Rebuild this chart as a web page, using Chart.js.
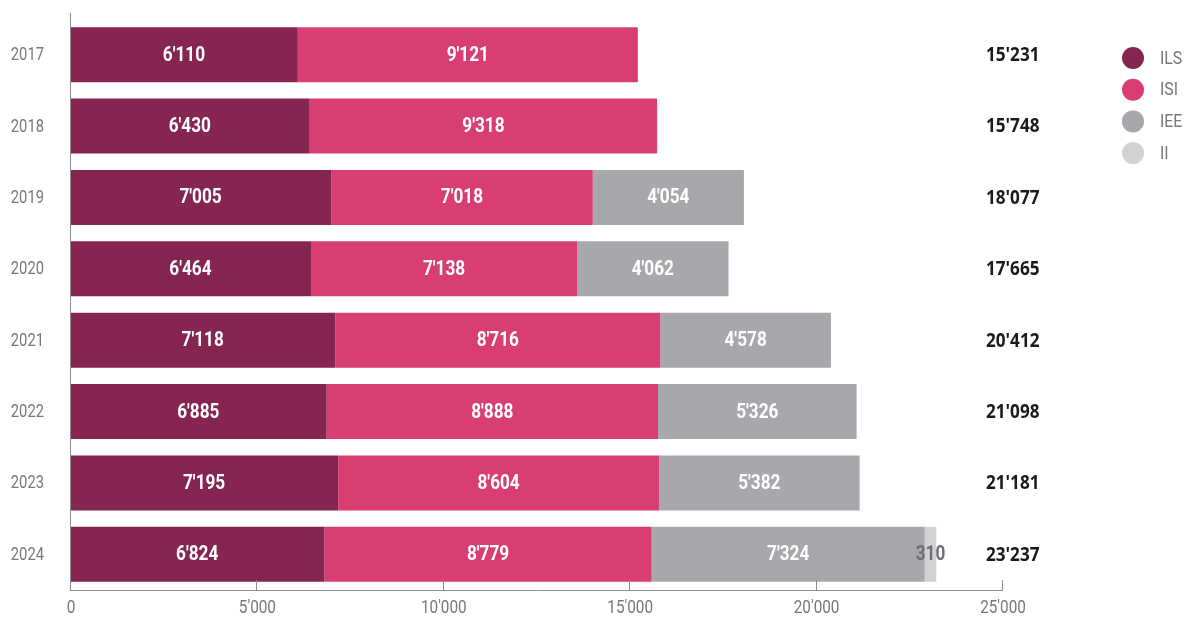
<!DOCTYPE html>
<html><head><meta charset="utf-8">
<script src="https://cdn.jsdelivr.net/npm/chart.js@4"></script>
<style>html,body{margin:0;padding:0;background:#fff}#wrap{width:1186px;height:617px;position:relative}</style>
</head><body>
<div id="wrap"><canvas id="c" width="1186" height="617"></canvas></div>
<script>
const years = ['2017','2018','2019','2020','2021','2022','2023','2024'];
const ils = [6110, 6430, 7005, 6464, 7118, 6885, 7195, 6824];
const isi = [9121, 9318, 7018, 7138, 8716, 8888, 8604, 8779];
const iee = [null, null, 4054, 4062, 4578, 5326, 5382, 7324];
const ii  = [null, null, null, null, null, null, null, 310];
const totals = [15231, 15748, 18077, 17665, 20412, 21098, 21181, 23237];
const seriesNames = ['ILS', 'ISI', 'IEE', 'II'];
const colors = ['#862452', '#d83e72', '#a7a8ab', '#d1d2d4'];
const labelColors = ['#ffffff', '#ffffff', '#ffffff', '#6d6e71'];
const xTicks = [0, 5000, 10000, 15000, 20000, 25000];

const SANS = "Roboto, 'Liberation Sans', sans-serif";
const fmt = v => String(v).replace(/\B(?=(\d{3})+(?!\d))/g, "'");
const AXIS = '#8c8c8c';
const TICKCOL = '#77787b';

function narrowText(ctx, text, x, y, sx) {
  ctx.save();
  ctx.translate(x, y);
  ctx.scale(sx, 1);
  ctx.fillText(text, 0, 0);
  ctx.restore();
}

const overlay = {
  id: 'overlay',
  afterDatasetsDraw(chart) {
    const ctx = chart.ctx;
    ctx.save();
    ctx.textAlign = 'center';
    ctx.textBaseline = 'middle';
    ctx.font = "bold 20px " + SANS;
    chart.data.datasets.forEach((ds, di) => {
      const meta = chart.getDatasetMeta(di);
      meta.data.forEach((el, i) => {
        const v = ds.data[i];
        if (v == null) return;
        ctx.fillStyle = labelColors[di];
        narrowText(ctx, fmt(v), (el.x + el.base) / 2, el.y + 1, 0.86);
      });
    });
    ctx.restore();
  },
  afterDraw(chart) {
    const ctx = chart.ctx;
    const xs = chart.scales.x, ys = chart.scales.y;
    ctx.save();
    // y axis line
    ctx.strokeStyle = AXIS;
    ctx.lineWidth = 1;
    ctx.beginPath();
    ctx.moveTo(xs.left + 0.5, 13);
    ctx.lineTo(xs.left + 0.5, xs.top);
    ctx.stroke();
    // inner tick marks + x tick labels
    ctx.fillStyle = TICKCOL;
    ctx.font = "18px " + SANS;
    ctx.textAlign = 'center';
    ctx.textBaseline = 'middle';
    xTicks.forEach(v => {
      const px = xs.getPixelForValue(v);
      const x = Math.round(px) + 0.5;
      ctx.beginPath();
      ctx.moveTo(x, xs.top - 10);
      ctx.lineTo(x, xs.top);
      ctx.stroke();
      narrowText(ctx, fmt(v), px + 1, xs.top + 18, 0.85);
    });
    // y tick labels
    ctx.textAlign = 'right';
    years.forEach((yv, i) => {
      narrowText(ctx, yv, 44, ys.getPixelForValue(i) + 1, 0.82);
    });
    // totals
    ctx.fillStyle = '#1a1a1a';
    ctx.font = "bold 19px 'Open Sans', 'Liberation Sans', sans-serif";
    ctx.textAlign = 'left';
    totals.forEach((t, i) => {
      narrowText(ctx, fmt(t), xs.right - 16, ys.getPixelForValue(i) + 1, 0.9);
    });
    // legend
    seriesNames.forEach((n, i) => {
      const cy = 58 + i * 31.7;
      ctx.fillStyle = colors[i];
      ctx.beginPath();
      ctx.arc(1133, cy, 11, 0, Math.PI * 2);
      ctx.fill();
      ctx.fillStyle = TICKCOL;
      ctx.font = "18px " + SANS;
      narrowText(ctx, n, 1160, cy + 1, 0.88);
    });
    ctx.restore();
  }
};

new Chart(document.getElementById('c'), {
  type: 'bar',
  data: {
    labels: years,
    datasets: seriesNames.map((n, i) => ({
      label: n,
      data: [ils, isi, iee, ii][i],
      backgroundColor: colors[i],
      borderWidth: 0,
      categoryPercentage: 0.77,
      barPercentage: 1
    }))
  },
  options: {
    indexAxis: 'y',
    responsive: false,
    animation: false,
    layout: { autoPadding: false, padding: { top: 19, right: 184, left: 0, bottom: 0 } },
    plugins: { legend: { display: false }, tooltip: { enabled: false } },
    scales: {
      x: {
        stacked: true, min: 0, max: 25000,
        afterBuildTicks: s => { s.ticks = xTicks.map(v => ({ value: v })); },
        afterFit: s => { s.height = 27; s.paddingLeft = 0; s.paddingRight = 0; },
        grid: { display: false, drawTicks: false },
        border: { display: true, color: AXIS, width: 1 },
        ticks: { display: false }
      },
      y: {
        stacked: true,
        afterFit: s => { s.width = 70; s.paddingTop = 0; s.paddingBottom = 0; },
        grid: { display: false, drawTicks: false },
        border: { display: false },
        ticks: { display: false }
      }
    }
  },
  plugins: [overlay]
});
</script>
</body></html>
